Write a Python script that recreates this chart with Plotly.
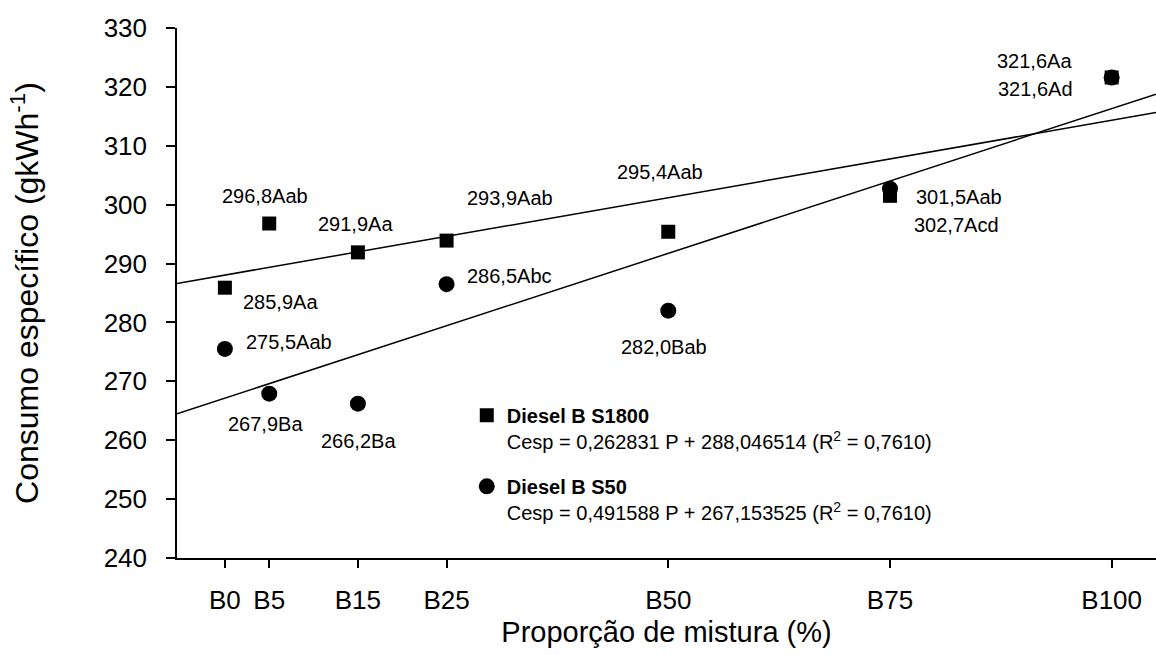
import plotly.graph_objects as go

# ---------------- data ----------------
blend_pct = [0, 5, 15, 25, 50, 75, 100]
tick_labels = ["B0", "B5", "B15", "B25", "B50", "B75", "B100"]

s1800_values = [285.9, 296.8, 291.9, 293.9, 295.4, 301.5, 321.6]
s50_values = [275.5, 267.9, 266.2, 286.5, 282.0, 302.7, 321.6]

s1800_labels = ["285,9Aa", "296,8Aab", "291,9Aa", "293,9Aab", "295,4Aab", "301,5Aab", "321,6Aa"]
s50_labels = ["275,5Aab", "267,9Ba", "266,2Ba", "286,5Abc", "282,0Bab", "302,7Acd", "321,6Ad"]

# regression coefficients (slope, intercept) as printed on the chart
s1800_fit = [0.262831, 288.046514]
s50_fit = [0.491588, 267.153525]
r2_values = ["0,7610", "0,7610"]

series_names = ["Diesel B S1800", "Diesel B S50"]
equation_texts = [
    "Cesp = 0,262831 P + 288,046514 (R<sup>2</sup> = " + r2_values[0] + ")",
    "Cesp = 0,491588 P + 267,153525 (R<sup>2</sup> = " + r2_values[1] + ")",
]

# ---------------- styling ----------------
FONT = "Liberation Sans, Arial, Helvetica, sans-serif"
X_RANGE = [-5.4, 105]
Y_RANGE = [240, 330]

# label offsets in pixels (xshift, yshift) relative to each point
s1800_offsets = [(56, -14), (-4, 28), (-2, 28), (63, 43), (-8, 60), (69, -1), (-77, 16)]
s50_offsets = [(64, 7), (-4, -30), (1, -37), (63, 8), (-4, -36), (67, -36), (-76, -12)]

fig = go.Figure()

# regression lines spanning the whole axis
for fit in (s1800_fit, s50_fit):
    fig.add_trace(go.Scatter(
        x=X_RANGE,
        y=[fit[0] * X_RANGE[0] + fit[1], fit[0] * X_RANGE[1] + fit[1]],
        mode="lines",
        line=dict(color="black", width=1.5),
        showlegend=False,
        hoverinfo="skip",
    ))

fig.add_trace(go.Scatter(
    x=blend_pct, y=s50_values, mode="markers",
    marker=dict(symbol="circle", size=16, color="black"),
    name="<b>" + series_names[1] + "</b><br>" + equation_texts[1],
    legendgroup="b", legendrank=2,
))
fig.add_trace(go.Scatter(
    x=blend_pct, y=s1800_values, mode="markers",
    marker=dict(symbol="square", size=14, color="black"),
    name="<b>" + series_names[0] + "</b><br>" + equation_texts[0],
    legendgroup="a", legendrank=1,
))

annotations = []
for vals, labs, offs in ((s1800_values, s1800_labels, s1800_offsets),
                         (s50_values, s50_labels, s50_offsets)):
    for xv, yv, lab, (dx, dy) in zip(blend_pct, vals, labs, offs):
        annotations.append(dict(
            x=xv, y=yv, text=lab, showarrow=False,
            xshift=dx, yshift=dy, xanchor="center", yanchor="middle",
            font=dict(family=FONT, size=20, color="black"),
        ))

fig.update_layout(
    width=1156, height=655,
    margin=dict(l=177, r=0, t=28, b=97, autoexpand=False),
    paper_bgcolor="white", plot_bgcolor="white",
    font=dict(family=FONT, color="black"),
    annotations=annotations,
    showlegend=True,
    legend=dict(
        x=0.296, y=0.306, xanchor="left", yanchor="top",
        bgcolor="rgba(0,0,0,0)", borderwidth=0,
        font=dict(family=FONT, size=20, color="black"),
        valign="top", traceorder="grouped", tracegroupgap=16,
        itemsizing="trace",
    ),
    xaxis=dict(
        range=X_RANGE, tickmode="array", tickvals=blend_pct, ticktext=tick_labels,
        showline=True, linecolor="black", linewidth=1.5,
        ticks="outside", ticklen=8, tickwidth=1.5, tickcolor="black",
        tickfont=dict(family=FONT, size=26, color="black"),
        ticklabelstandoff=10,
        showgrid=False, zeroline=False, automargin=False,
        title=dict(text="Proporção de mistura (%)",
                   font=dict(family=FONT, size=29, color="black"), standoff=8),
    ),
    yaxis=dict(
        range=Y_RANGE, tickmode="linear", tick0=240, dtick=10,
        showline=True, linecolor="black", linewidth=1.5,
        ticks="outside", ticklen=9, tickwidth=1.5, tickcolor="black",
        tickfont=dict(family=FONT, size=26, color="black"),
        ticklabelstandoff=14,
        showgrid=False, zeroline=False, automargin=False,
        title=dict(text="Consumo específico (gkWh<sup>-1</sup>)",
                   font=dict(family=FONT, size=32, color="black"), standoff=55),
    ),
)

fig.write_html(
    "out.html",
    config={"displayModeBar": False},
    post_script="document.body.style.margin='0px';document.body.style.padding='0px';",
)
